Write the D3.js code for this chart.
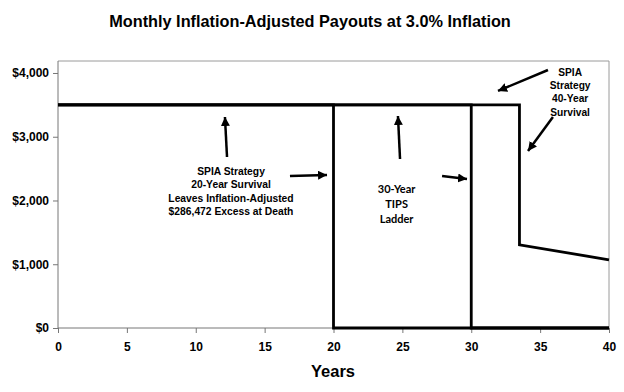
<!DOCTYPE html>
<html><head><meta charset="utf-8">
<script src="https://cdn.jsdelivr.net/npm/d3@7"></script>
<style>body{margin:0;background:#fff}svg{display:block}</style>
</head><body><svg id="c" width="624" height="392"></svg>
<script>
const title = "Monthly Inflation-Adjusted Payouts at 3.0% Inflation";
const xTicks = [0,5,10,15,20,25,30,35,40];
const yTicks = [0,1000,2000,3000,4000];
const spia20X = [0,20,20,40];
const spia20Y = [3500,3500,0,0];
const tipsX = [0,30,30,40];
const tipsY = [3500,3500,0,0];
const spia40X = [0,33.5,33.5,40];
const spia40Y = [3500,3500,1305,1070];
const noteSpia20 = ["SPIA Strategy","20-Year Survival","Leaves Inflation-Adjusted","$286,472 Excess at Death"];
const noteTips = ["30-Year","TIPS","Ladder"];
const noteSpia40 = ["SPIA","Strategy","40-Year","Survival"];
// arrows: [x1,y1,x2,y2] in data units (tail -> tip)
const arrows = [
  [12.27,2682,12.12,3310],
  [16.84,2384,19.53,2400],
  [24.83,2651,24.68,3325],
  [27.88,2384,29.69,2337],
  [35.57,4047,31.94,3718],
  [35.93,3310,34.12,2776]
];

const svg = d3.select("#c");
const L=58,R=609,T=61,B=328;
const x = d3.scaleLinear().domain([0,40]).range([L,R]);
const y = d3.scaleLinear().domain([0,4188]).range([B,T]);
const font = "'Liberation Sans', Arial, sans-serif";

svg.append("text").attr("x",310).attr("y",27).attr("text-anchor","middle")
  .attr("font-family",font).attr("font-weight","bold").attr("font-size",16.3).text(title);

// frame top/right
svg.append("path").attr("d",`M${L},${T}H${R}V${B}`).attr("fill","none").attr("stroke","#9a9a9a").attr("stroke-width",1);

const xa = svg.append("g").attr("transform",`translate(0,${B})`)
  .call(d3.axisBottom(x).tickValues(xTicks).tickSize(5).tickPadding(9).tickFormat(d3.format("d")));
const ya = svg.append("g").attr("transform",`translate(${L},0)`)
  .call(d3.axisLeft(y).tickValues(yTicks).tickSize(5).tickPadding(4).tickFormat(d=>"$"+d3.format(",")(d)));
[xa,ya].forEach(a=>{
  a.select(".domain").attr("stroke","#777");
  a.selectAll(".tick line").attr("stroke","#777");
  a.selectAll("text").attr("font-family",font).attr("font-weight","bold").attr("font-size",12).attr("fill","#000");
});
ya.select(".domain").attr("d",`M0,${B}V${T}`);
xa.select(".domain").attr("d",`M${L},0H${R}`);

svg.append("text").attr("x",333).attr("y",377).attr("text-anchor","middle")
  .attr("font-family",font).attr("font-weight","bold").attr("font-size",16.5).text("Years");

const line = d3.line().x(d=>x(d[0])).y(d=>y(d[1]));
[[spia20X,spia20Y],[tipsX,tipsY],[spia40X,spia40Y]].forEach(([xs,ys])=>{
  svg.append("path").datum(xs.map((v,i)=>[v,ys[i]])).attr("d",line)
    .attr("fill","none").attr("stroke","#000").attr("stroke-width",2.8).attr("stroke-linejoin","miter");
});

svg.append("defs").append("marker").attr("id","ah").attr("viewBox","0 0 10 10")
  .attr("refX",10).attr("refY",5).attr("markerWidth",3.6).attr("markerHeight",3.6)
  .attr("markerUnits","strokeWidth").attr("orient","auto")
  .append("path").attr("d","M0,0L10,5L0,10Z").attr("fill","#000");
arrows.forEach(a=>{
  svg.append("line").attr("x1",x(a[0])).attr("y1",y(a[1])).attr("x2",x(a[2])).attr("y2",y(a[3]))
    .attr("stroke","#000").attr("stroke-width",2.5).attr("marker-end","url(#ah)");
});

function note(lines,cx,by,lh,ff,fs){
  const t = svg.append("text").attr("text-anchor","middle").attr("font-family",ff)
    .attr("font-weight","bold").attr("font-size",fs);
  lines.forEach((s,i)=>t.append("tspan").attr("x",x(cx)).attr("y",y(by)+i*lh).text(s));
}
note(noteSpia20,12.56,2400,13.4,font,10.3);
note(noteTips,24.58,2120,15,"Lato, 'Open Sans', sans-serif",11);
note(noteSpia40,37.18,3960,13.4,font,10.2);
</script></body></html>
